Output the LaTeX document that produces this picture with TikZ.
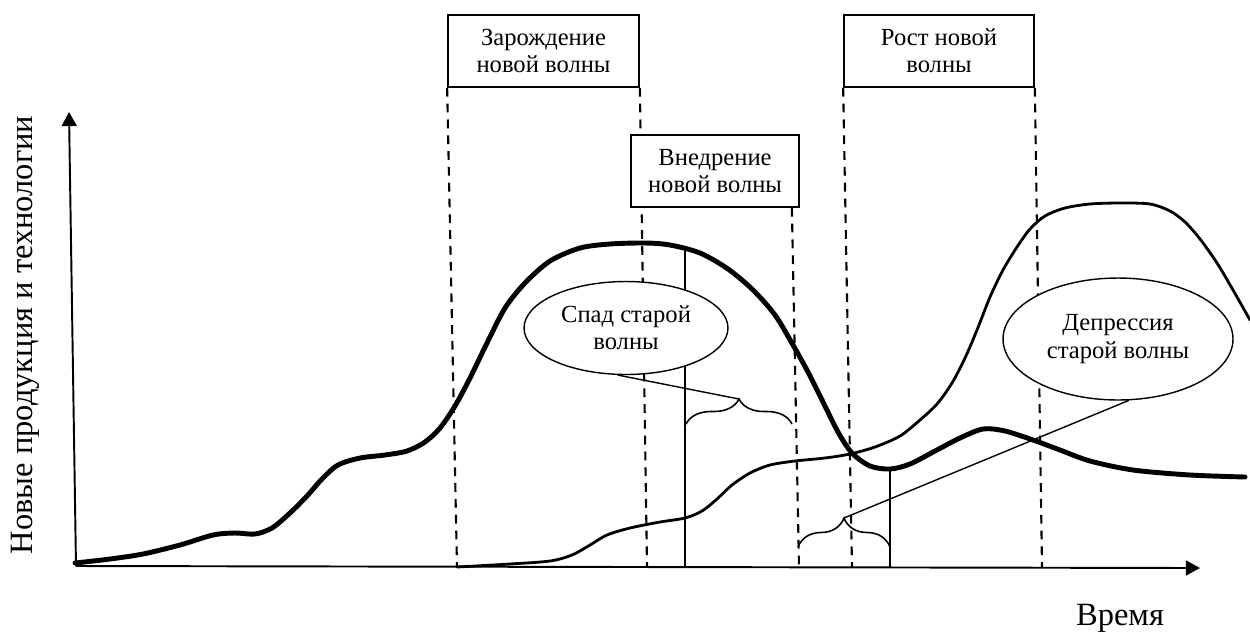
\documentclass[tikz,border=0pt]{standalone}
\usepackage{fontspec}
\setmainfont{Liberation Serif}
\usetikzlibrary{arrows.meta,shapes.geometric,decorations.pathreplacing,calc}
\pgfdeclarelayer{bg}
\pgfsetlayers{bg,main}
\begin{document}
\begin{tikzpicture}[x=0.02cm,y=-0.02cm,
  lbl/.style={font=\fontsize{14}{15.5}\selectfont, align=center},
  stagebox/.style={draw, line width=1pt, fill=white, inner sep=0pt, lbl},
  oval/.style={ellipse, draw, line width=0.8pt, fill=white, inner sep=0pt, lbl},
  guide/.style={line width=1.2pt, dash pattern=on 5pt off 4pt},
  axisline/.style={line width=1.1pt, -{Triangle[length=8pt,width=8.5pt]}},
  oldwave/.style={line width=2.8pt, line join=round, line cap=round},
  newwave/.style={line width=1.6pt, line cap=round},
  marker/.style={line width=0.9pt},
  bracket/.style={line width=0.9pt, decorate, decoration={brace, amplitude=#1}},
  leader/.style={line width=0.8pt},
  axlabel/.style={font=\fontsize{18.5}{21}\selectfont}
]
\useasboundingbox (0,0) rectangle (1250,633);

% stage boxes
\node[stagebox, minimum width=3.82cm, minimum height=1.44cm] (zb) at (543.5,51) {Зарождение\\новой волны};
\node[stagebox, minimum width=3.36cm, minimum height=1.44cm] (vn) at (715,171) {Внедрение\\новой волны};
\node[stagebox, minimum width=3.8cm, minimum height=1.44cm] (rb) at (939,51) {Рост новой\\волны};

% ellipses
\node[oval, minimum width=4.08cm, minimum height=1.86cm] (sp) at (626,328) {Спад старой\\волны};
\node[oval, minimum width=4.6cm, minimum height=2.44cm] (dp) at (1118,339) {Депрессия\\старой волны};

% coordinates
\coordinate (o) at (76,566);
\coordinate (ytip) at (69,112);
\coordinate (xtip) at (1200,568);
\coordinate (g1) at (457,567);
\coordinate (g2) at (647,567);
\coordinate (g3) at (799,567);
\coordinate (g4) at (852,567);
\coordinate (g5) at (1042,567);
\coordinate (v1t) at (685,251);
\coordinate (v1b) at (685,567);
\coordinate (v2t) at (890,469);
\coordinate (v2b) at (890,567);
\coordinate (b1l) at (686,424);
\coordinate (b1r) at (792,424);
\coordinate (t1) at (739,399);
\coordinate (b2l) at (798,547);
\coordinate (b2r) at (890,547);
\coordinate (t2) at (844,518);

\begin{pgfonlayer}{bg}
  \draw[guide] (zb.south west) -- (g1);
  \draw[guide] (zb.south east) -- (g2);
  \draw[guide] ($(vn.south east)+(-8,0)$) -- (g3);
  \draw[guide] (rb.south west) -- (g4);
  \draw[guide] (rb.south east) -- (g5);
  \draw[marker] (v1t) -- (v1b);
  \draw[marker] (v2t) -- (v2b);
\end{pgfonlayer}

% axes
\draw[axisline] (o) -- (ytip);
\draw[axisline] (o) -- (xtip);

% old wave (thick)
\draw[oldwave] plot[smooth, tension=0.5] coordinates {
 (75,563) (110,559) (143,554) (180,545) (213,535) (235,533) (255,534) (272,528)
 (290,513) (307,496) (322,479) (338,465) (360,458) (385,455) (407,451) (425,442)
 (440,428) (455,406) (470,378) (487,343) (505,308) (525,283) (550,261) (580,248)
 (610,244) (645,243) (670,245) (700,253) (728,269) (753,290) (775,315) (793,345)
 (808,372) (822,400) (838,432) (852,453) (870,466) (890,469) (910,464) (935,451)
 (960,438) (983,429) (1005,431) (1033,440) (1060,450) (1090,461) (1133,470)
 (1190,475) (1245,477)};

% new wave (thin)
\draw[newwave] plot[smooth, tension=0.5] coordinates {
 (457,567) (510,564) (550,561) (572,555) (590,545) (607,535) (630,528) (660,522)
 (685,518) (702,511) (717,499) (732,485) (750,473) (770,465) (795,461) (825,458)
 (850,454) (875,447) (900,436) (920,420) (937,404) (952,383) (965,358) (977,330)
 (990,297) (1003,270) (1017,247) (1030,229) (1045,216) (1065,208) (1090,204)
 (1120,203) (1150,204) (1170,211) (1185,222) (1200,239) (1217,263) (1233,290)
 (1250,320)};

% braces and leaders
\draw[bracket=0.5cm] (b1l) -- (b1r);
\draw[bracket=0.58cm] (b2l) -- (b2r);
\draw[leader] (sp.-100) -- (t1);
\draw[leader] (t2) -- (dp.-80);

% axis labels
\node[axlabel, rotate=90] (ylab) at (25,335) {Новые продукция и технологии};
\node[axlabel, anchor=base] (tlab) at (1120,625) {Время};
\end{tikzpicture}
\end{document}
